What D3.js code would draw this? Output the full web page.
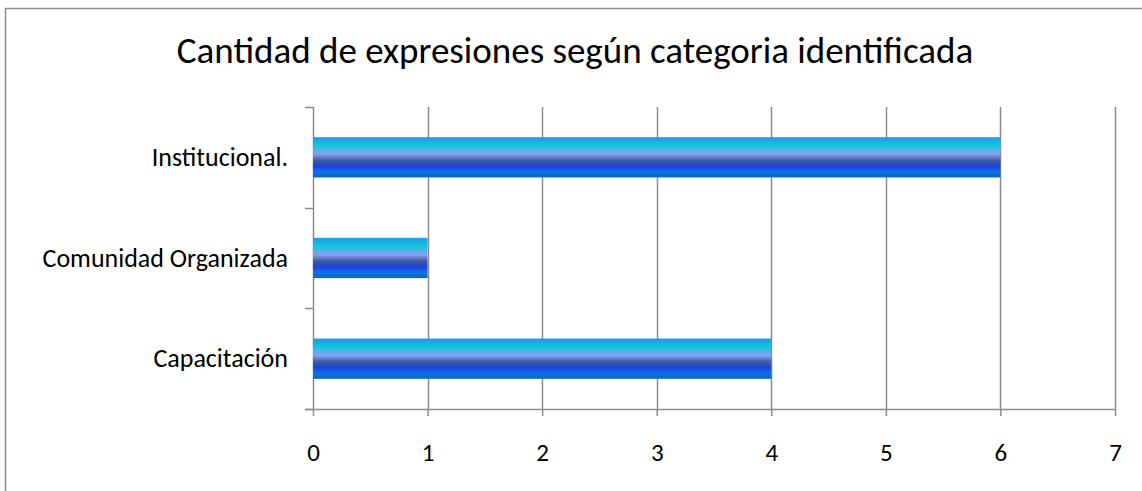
<!DOCTYPE html>
<html>
<head>
<meta charset="utf-8">
<script src="https://cdn.jsdelivr.net/npm/d3@7"></script>
<style>
  body { margin: 0; background: #fff; }
  svg { display: block; font-family: Carlito, Calibri, Lato, sans-serif; }
</style>
</head>
<body>
<div id="chart"></div>
<script>
var categories = ["Institucional.", "Comunidad Organizada", "Capacitación"];
var values = [6, 1, 4];
var xTicks = [0, 1, 2, 3, 4, 5, 6, 7];
var title = "Cantidad de expresiones según categoria identificada";

var W = 1142, H = 491;
var margin = {top: 107, right: 27, bottom: 82, left: 313},
    width = W - margin.left - margin.right,
    height = H - margin.top - margin.bottom;

var svg = d3.select("#chart").append("svg")
    .attr("width", W)
    .attr("height", H);

// outer frame
svg.append("rect")
    .attr("x", 5.5).attr("y", 8.5)
    .attr("width", W + 20).attr("height", H + 20)
    .attr("fill", "#fff")
    .attr("stroke", "#8a8a8a")
    .attr("stroke-width", 1.5);

var defs = svg.append("defs");
var grad = defs.append("linearGradient")
    .attr("id", "barGrad")
    .attr("x1", 0).attr("y1", 0).attr("x2", 0).attr("y2", 1);
[["0%", "#2196f0"], ["20%", "#0cc8d6"], ["42%", "#8c9ef6"], ["58%", "#3a5c9c"],
 ["72%", "#2040e0"], ["86%", "#0c72ea"], ["100%", "#0a68b8"]].forEach(function(s) {
  grad.append("stop").attr("offset", s[0]).attr("stop-color", s[1]);
});

var g = svg.append("g").attr("transform", "translate(" + margin.left + "," + margin.top + ")");

var x = d3.scaleLinear().domain([0, 7]).range([0, width]);
var y = d3.scaleBand()
    .domain(categories)
    .range([0, height])
    .paddingInner(0.6)
    .paddingOuter(0.3);

// gridlines
g.append("g")
  .selectAll("line")
  .data(xTicks)
  .enter().append("line")
    .attr("x1", function(d) { return Math.round(x(d)) + 0.5; })
    .attr("x2", function(d) { return Math.round(x(d)) + 0.5; })
    .attr("y1", 0)
    .attr("y2", height)
    .attr("stroke", "#8c8c8c")
    .attr("stroke-width", 1.5);

// bottom axis
var xAxis = g.append("g")
    .attr("transform", "translate(0," + height + ")")
    .call(d3.axisBottom(x).tickValues(xTicks).tickFormat(d3.format("d"))
      .tickSize(7).tickPadding(27).tickSizeOuter(0));
xAxis.select(".domain").remove();
xAxis.selectAll(".tick line").attr("stroke", "#8c8c8c").attr("stroke-width", 1.5);
xAxis.selectAll(".tick text").attr("font-size", 25).attr("fill", "#000")
    .attr("font-family", "Carlito, Calibri, Lato, sans-serif");
xAxis.append("line")
    .attr("x1", -8).attr("x2", width)
    .attr("y1", 0.5).attr("y2", 0.5)
    .attr("stroke", "#8c8c8c").attr("stroke-width", 1.5);

// left axis ticks at band boundaries
var bounds = [0, height / 3, 2 * height / 3, height];
g.append("g")
  .selectAll("line")
  .data(bounds)
  .enter().append("line")
    .attr("x1", -8).attr("x2", 0)
    .attr("y1", function(d) { return Math.round(d) + 0.5; })
    .attr("y2", function(d) { return Math.round(d) + 0.5; })
    .attr("stroke", "#8c8c8c").attr("stroke-width", 1.5);

// category labels
g.append("g")
  .selectAll("text")
  .data(categories)
  .enter().append("text")
    .attr("x", -25)
    .attr("y", function(d) { return y(d) + y.bandwidth() / 2; })
    .attr("dy", "0.33em")
    .attr("text-anchor", "end")
    .attr("font-size", 26)
    .text(function(d) { return d; });

// bars
g.append("g")
  .selectAll("rect")
  .data(categories)
  .enter().append("rect")
    .attr("x", x(0))
    .attr("y", function(d) { return y(d); })
    .attr("width", function(d, i) { return x(values[i]) - x(0); })
    .attr("height", y.bandwidth())
    .attr("fill", "url(#barGrad)");

// title
svg.append("text")
    .attr("x", 575)
    .attr("y", 63)
    .attr("text-anchor", "middle")
    .attr("font-size", 37)
    .text(title);
</script>
</body>
</html>
